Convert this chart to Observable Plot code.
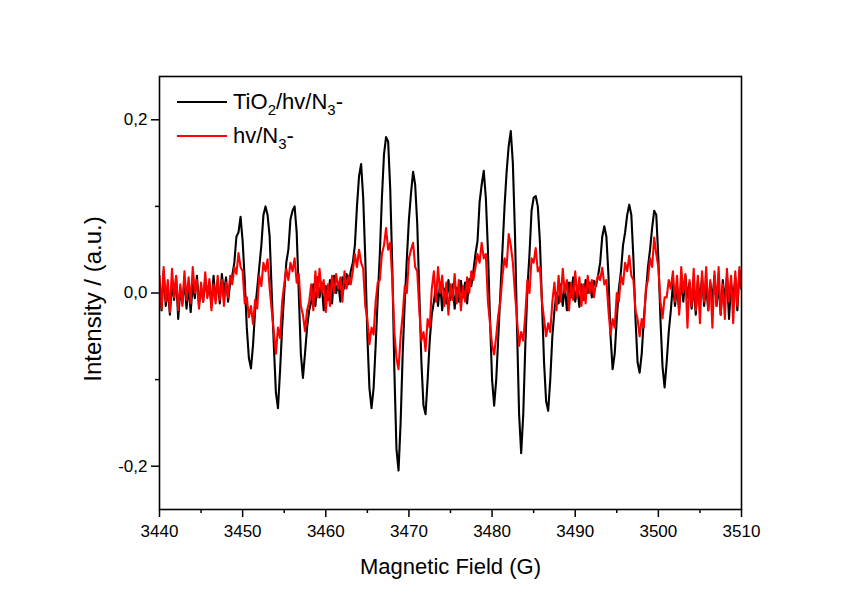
<!DOCTYPE html>
<html><head><meta charset="utf-8">
<script src="https://cdn.jsdelivr.net/npm/d3@7"></script>
<script src="https://cdn.jsdelivr.net/npm/@observablehq/plot@0.6"></script>
<style>
body{margin:0;background:#fff;}
#wrap{position:relative;width:845px;height:604px;font-family:"Liberation Sans",Arial,sans-serif;}
.legrow{position:absolute;display:flex;align-items:center;font-size:22px;color:#000;white-space:nowrap;line-height:1;}
.legline{width:50px;height:0;border-top:2px solid;margin-right:6px;}
sub{font-size:0.68em;vertical-align:-0.4em;line-height:0;}
</style></head>
<body><div id="wrap"></div>
<script>
// Magnetic field sample points (G)
const field = [
3440,3440.25,3440.5,3440.75, 3441,3441.25,3441.5,3441.75, 3442,3442.25,3442.5,3442.75, 3443,3443.25,3443.5,3443.75,
3444,3444.25,3444.5,3444.75, 3445,3445.25,3445.5,3445.75, 3446,3446.25,3446.5,3446.75, 3447,3447.25,3447.5,3447.75,
3448,3448.25,3448.5,3448.75, 3449,3449.25,3449.5,3449.75, 3450,3450.25,3450.5,3450.75, 3451,3451.25,3451.5,3451.75,
3452,3452.25,3452.5,3452.75, 3453,3453.25,3453.5,3453.75, 3454,3454.25,3454.5,3454.75, 3455,3455.25,3455.5,3455.75,
3456,3456.25,3456.5,3456.75, 3457,3457.25,3457.5,3457.75, 3458,3458.25,3458.5,3458.75, 3459,3459.25,3459.5,3459.75,
3460,3460.25,3460.5,3460.75, 3461,3461.25,3461.5,3461.75, 3462,3462.25,3462.5,3462.75, 3463,3463.25,3463.5,3463.75,
3464,3464.25,3464.5,3464.75, 3465,3465.25,3465.5,3465.75, 3466,3466.25,3466.5,3466.75, 3467,3467.25,3467.5,3467.75,
3468,3468.25,3468.5,3468.75, 3469,3469.25,3469.5,3469.75, 3470,3470.25,3470.5,3470.75, 3471,3471.25,3471.5,3471.75,
3472,3472.25,3472.5,3472.75, 3473,3473.25,3473.5,3473.75, 3474,3474.25,3474.5,3474.75, 3475,3475.25,3475.5,3475.75,
3476,3476.25,3476.5,3476.75, 3477,3477.25,3477.5,3477.75, 3478,3478.25,3478.5,3478.75, 3479,3479.25,3479.5,3479.75,
3480,3480.25,3480.5,3480.75, 3481,3481.25,3481.5,3481.75, 3482,3482.25,3482.5,3482.75, 3483,3483.25,3483.5,3483.75,
3484,3484.25,3484.5,3484.75, 3485,3485.25,3485.5,3485.75, 3486,3486.25,3486.5,3486.75, 3487,3487.25,3487.5,3487.75,
3488,3488.25,3488.5,3488.75, 3489,3489.25,3489.5,3489.75, 3490,3490.25,3490.5,3490.75, 3491,3491.25,3491.5,3491.75,
3492,3492.25,3492.5,3492.75, 3493,3493.25,3493.5,3493.75, 3494,3494.25,3494.5,3494.75, 3495,3495.25,3495.5,3495.75,
3496,3496.25,3496.5,3496.75, 3497,3497.25,3497.5,3497.75, 3498,3498.25,3498.5,3498.75, 3499,3499.25,3499.5,3499.75,
3500,3500.25,3500.5,3500.75, 3501,3501.25,3501.5,3501.75, 3502,3502.25,3502.5,3502.75, 3503,3503.25,3503.5,3503.75,
3504,3504.25,3504.5,3504.75, 3505,3505.25,3505.5,3505.75, 3506,3506.25,3506.5,3506.75, 3507,3507.25,3507.5,3507.75,
3508,3508.25,3508.5,3508.75, 3509,3509.25,3509.5,3509.75, 3510
];

// TiO2/hv/N3- (black)
const tio2 = [
0.01,-0.02,0.025,-0.015, 0.005,-0.025,0.012,-0.008, 0.018,-0.03,0.004,-0.012, 0.015,-0.018,0.008,-0.022,
0.01,-0.006,0.02,-0.014, 0.006,-0.01,0.016,-0.004, 0.012,-0.016,0.02,-0.008, 0.014,-0.012,0.022,0.0,
0.018,-0.01,0.012,0.02, 0.035,0.065,0.07,0.088, 0.06,0.015,-0.04,-0.075, -0.087,-0.06,-0.02,0.005,
0.03,0.055,0.09,0.1, 0.09,0.065,0.0,-0.06, -0.115,-0.133,-0.09,-0.04, 0.0,0.035,0.05,0.085,
0.095,0.1,0.07,0.0, -0.07,-0.098,-0.07,-0.04, -0.02,-0.01,0.01,-0.015, 0.018,-0.005,0.012,-0.02,
0.008,-0.008,0.015,-0.012, 0.02,0.0,0.012,-0.01, 0.018,0.005,0.022,0.01, 0.025,0.035,0.055,0.1,
0.135,0.149,0.11,0.04, -0.05,-0.11,-0.133,-0.11, -0.06,-0.005,0.045,0.11, 0.16,0.18,0.175,0.12,
0.03,-0.09,-0.18,-0.205, -0.15,-0.07,-0.01,0.04, 0.085,0.115,0.14,0.125, 0.08,0.0,-0.08,-0.13,
-0.14,-0.1,-0.055,-0.025, -0.01,0.008,-0.015,0.012, -0.02,0.005,-0.012,0.015, -0.008,0.01,-0.018,0.006,
-0.01,0.014,-0.005,0.012, -0.012,0.016,0.008,0.025, 0.045,0.06,0.105,0.125, 0.141,0.11,0.05,-0.03,
-0.1,-0.13,-0.1,-0.05, 0.0,0.05,0.1,0.14, 0.17,0.187,0.15,0.07, -0.04,-0.14,-0.185,-0.14,
-0.06,0.005,0.045,0.095, 0.11,0.112,0.1,0.06, -0.01,-0.08,-0.125,-0.136, -0.1,-0.05,-0.02,0.0,
-0.012,0.01,-0.015,0.008, -0.02,0.012,-0.005,0.018, -0.01,0.006,-0.016,0.01, -0.008,0.015,0.0,0.012,
-0.005,0.014,0.008,0.02, 0.035,0.065,0.077,0.065, 0.02,-0.05,-0.088,-0.07, -0.03,0.005,0.025,0.055,
0.07,0.09,0.102,0.09, 0.04,-0.03,-0.08,-0.092, -0.07,-0.03,0.0,0.03, 0.05,0.075,0.095,0.09,
0.04,-0.03,-0.085,-0.109, -0.08,-0.045,-0.02,0.01, -0.015,0.008,-0.02,0.015, -0.01,0.02,-0.005,0.012,
-0.018,0.01,-0.025,0.015, -0.01,0.018,-0.015,0.008, -0.02,0.012,-0.008,0.02, -0.015,0.01,-0.025,0.015,
-0.01,0.02,-0.03,0.012, -0.008,0.018,-0.02,0.025, 0.005
];

// hv/N3- (red)
const hvN3 = [
0.02,-0.018,0.03,-0.01, 0.015,-0.022,0.028,-0.005, 0.02,-0.02,0.01,-0.015, 0.025,-0.008,0.018,-0.012,
0.03,0.0,0.015,-0.018, 0.012,-0.01,0.024,-0.006, 0.016,-0.02,0.01,-0.012, 0.02,-0.008,0.015,-0.015,
0.012,-0.005,0.02,0.01, 0.03,0.022,0.046,0.03, 0.025,-0.012,-0.005,-0.028, -0.015,-0.036,-0.008,-0.018,
0.02,0.008,0.035,0.025, 0.039,0.005,-0.02,-0.045, -0.07,-0.04,-0.052,-0.01, 0.01,0.028,0.015,0.035,
0.025,0.04,0.012,0.022, -0.015,-0.025,-0.044,-0.02, -0.01,0.01,-0.02,0.025, -0.005,0.028,0.0,0.015,
-0.022,0.01,-0.015,0.02, 0.0,0.022,0.005,0.018, -0.01,0.025,0.005,0.02, 0.01,0.025,0.045,0.03,
0.05,0.035,0.028,-0.015, -0.03,-0.059,-0.04,-0.048, -0.01,0.012,0.015,0.045, 0.055,0.075,0.05,0.058,
0.015,-0.045,-0.075,-0.088, -0.05,-0.025,0.008,0.0, 0.04,0.05,0.058,0.03, 0.025,-0.02,-0.055,-0.045,
-0.067,-0.03,-0.04,0.005, 0.025,-0.01,0.03,0.0, 0.02,-0.015,0.012,-0.025, 0.01,-0.008,0.022,-0.012,
0.015,-0.02,0.008,-0.01, 0.018,0.0,0.025,0.015, 0.03,0.045,0.035,0.058, 0.04,0.045,-0.01,-0.035,
-0.06,-0.071,-0.05,-0.025, -0.01,0.02,0.04,0.03, 0.068,0.055,0.035,0.0, -0.03,-0.061,-0.045,-0.055,
-0.025,0.015,0.0,0.04, 0.035,0.052,0.025,0.03, -0.01,-0.03,-0.05,-0.035, -0.045,-0.01,0.012,-0.02,
0.02,-0.01,0.028,0.0, 0.015,-0.02,0.012,-0.008, 0.025,-0.005,0.018,-0.015, 0.01,-0.012,0.02,0.0,
0.015,-0.005,0.012,0.02, 0.015,0.029,0.01,0.015, -0.02,-0.048,-0.03,-0.04, 0.0,-0.01,0.02,0.01,
0.035,0.025,0.043,0.02, 0.015,-0.02,-0.03,-0.05, -0.03,-0.04,0.005,0.015, 0.04,0.03,0.064,0.045,
0.03,-0.01,-0.029,-0.005, -0.005,0.015,0.005,0.025, -0.01,0.02,-0.025,0.03, 0.0,0.022,-0.04,0.015,
-0.015,0.028,-0.02,0.02, -0.035,0.025,-0.01,0.03, -0.02,0.015,-0.04,0.025, -0.015,0.03,-0.025,0.01,
-0.03,0.028,-0.01,0.02, -0.035,0.025,-0.015,0.03, 0.005
];

const xMajorTicks = [3440, 3450, 3460, 3470, 3480, 3490, 3500, 3510];
const xMinorTicks = [3445, 3455, 3465, 3475, 3485, 3495, 3505];
const yMajorTicks = [-0.2, 0, 0.2];
const yMinorTicks = [-0.1, 0.1];
const seriesColors = ["#000000", "#ff0000"];

const blackRows = field.map((f, i) => ({field: f, intensity: tio2[i]}));
const redRows = field.map((f, i) => ({field: f, intensity: hvN3[i]}));
const commaFmt = d => d.toFixed(1).replace(".", ",");
const font = '"Liberation Sans", Arial, sans-serif';

const chart = Plot.plot({
  width: 845, height: 604,
  marginLeft: 159, marginRight: 104, marginTop: 76, marginBottom: 95,
  style: {fontFamily: font, fontSize: "17px", color: "#000", background: "#fff", overflow: "visible"},
  x: {domain: [3440, 3510]},
  y: {domain: [-0.25, 0.25]},
  marks: [
    Plot.line(blackRows, {x: "field", y: "intensity", stroke: seriesColors[0], strokeWidth: 2.1, clip: true}),
    Plot.line(redRows, {x: "field", y: "intensity", stroke: seriesColors[1], strokeWidth: 2.1, clip: true}),
    Plot.frame({stroke: "#000", strokeWidth: 1.6}),
    Plot.axisX(xMajorTicks, {tickSize: 8, tickPadding: 7, tickFormat: d => String(d), label: null, strokeWidth: 1.5, fontSize: 17}),
    Plot.axisX(xMinorTicks, {tickSize: 4, tickFormat: () => "", label: null, strokeWidth: 1.5}),
    Plot.axisY(yMajorTicks, {tickSize: 8, tickPadding: 4, tickFormat: commaFmt, label: null, strokeWidth: 1.5, fontSize: 17}),
    Plot.axisY(yMinorTicks, {tickSize: 4, tickFormat: () => "", label: null, strokeWidth: 1.5}),
    Plot.text(["Magnetic Field (G)"], {text: d => d, frameAnchor: "bottom", dy: 57, fontSize: 22, lineAnchor: "middle", textAnchor: "middle"}),
    Plot.text(["Intensity / (a.u.)"], {text: d => d, frameAnchor: "left", dx: -66, dy: 6, rotate: -90, fontSize: 24, lineAnchor: "middle", textAnchor: "middle"})
  ]
});

const wrap = document.getElementById("wrap");
wrap.appendChild(chart);

const legendHTML = [
  'TiO<sub>2</sub>/hv/N<sub>3</sub>-',
  'hv/N<sub>3</sub>-'
];
const legendTops = [90, 124];
legendHTML.forEach((html, i) => {
  const row = document.createElement("div");
  row.className = "legrow";
  row.style.left = "177px";
  row.style.top = legendTops[i] + "px";
  row.style.height = "24px";
  row.innerHTML = `<span class="legline" style="border-color:${seriesColors[i]}"></span><span>${html}</span>`;
  wrap.appendChild(row);
});
</script>
</body></html>
